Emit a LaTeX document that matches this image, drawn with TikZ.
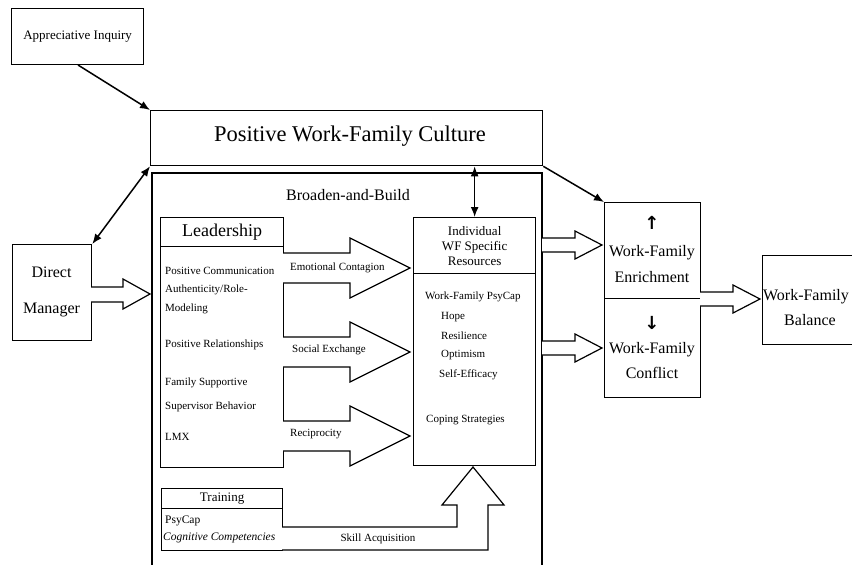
\documentclass[tikz,border=0pt]{standalone}
\usepackage{fontspec}
\setmainfont{Liberation Serif}
\newfontfamily\symfont{DejaVu Sans}
\usetikzlibrary{arrows.meta}
\newcommand\fsz[1]{\fontsize{#1}{#1}\selectfont}
\begin{document}
\begin{tikzpicture}[x=1pt,y=-1pt,
  box/.style={draw, line width=1.3pt, inner sep=0pt, anchor=north west},
  txt/.style={inner sep=0pt, font=\fsz{11}},
  ltxt/.style={txt, anchor=west},
  arr/.style={line width=1.5pt, -{Latex[length=10pt,width=8pt]}},
  darr/.style={line width=1.5pt, {Latex[length=10pt,width=8pt]}-{Latex[length=10pt,width=8pt]}},
  blk/.style={draw, line width=1.2pt, fill=white, line join=miter}
]
\useasboundingbox (0,0) rectangle (852,565);
\fill[white] (0,0) rectangle (852,565);
\begin{scope}
\clip (0,0) rectangle (852,565);

% outer Broaden-and-Build frame (runs off the bottom)
\draw[line width=1.3pt] (152,575) -- (152,173) -- (542,173) -- (542,575);
\node[txt, font=\fsz{16}] (bbt) at (348,195) {Broaden-and-Build};

% boxes
\node[box, minimum width=132pt, minimum height=56pt] (ai) at (11,8) {};
\node[txt, font=\fsz{13}] (ait) at (ai.center) {Appreciative Inquiry};

\node[box, minimum width=392pt, minimum height=55pt] (cult) at (150,110) {};
\node[txt, font=\fsz{22.5}] (cultt) at (350,136) {Positive Work-Family Culture};

\node[box, minimum width=79pt, minimum height=96pt] (dm) at (12,244) {};
\node[txt, font=\fsz{16}] (dm1) at (51.5,272) {Direct};
\node[txt, font=\fsz{16}] (dm2) at (51.5,310) {Manager};

\node[box, minimum width=123pt, minimum height=29pt] (leadh) at (160,217) {};
\node[txt, font=\fsz{18}] (leadt) at (leadh.center) {Leadership};
\node[box, minimum width=123pt, minimum height=221pt] (leadb) at (160,246) {};
\node[ltxt] (l1) at (165,271) {Positive Communication};
\node[ltxt] (l2) at (165,290) {Authenticity/Role-};
\node[ltxt] (l3) at (165,309) {Modeling};
\node[ltxt] (l4) at (165,345) {Positive Relationships};
\node[ltxt] (l5) at (165,383) {Family Supportive};
\node[ltxt] (l6) at (165,407) {Supervisor Behavior};
\node[ltxt] (l7) at (165,437) {LMX};

\node[box, minimum width=122pt, minimum height=56pt] (resh) at (413,217) {};
\node[txt, font=\fontsize{13}{15}\selectfont, align=center] (rest) at (resh.center) {Individual\\WF Specific\\Resources};
\node[box, minimum width=122pt, minimum height=192pt] (resb) at (413,273) {};
\node[ltxt] (r1) at (425,297) {Work-Family PsyCap};
\node[ltxt] (r2) at (441,317) {Hope};
\node[ltxt] (r3) at (441,336) {Resilience};
\node[ltxt] (r4) at (441,355) {Optimism};
\node[ltxt] (r5) at (439,375) {Self-Efficacy};
\node[ltxt] (r6) at (426,420) {Coping Strategies};

\node[box, minimum width=121pt, minimum height=20pt] (trh) at (161,488) {};
\node[txt, font=\fsz{13}] (trt) at (trh.center) {Training};
\node[box, minimum width=121pt, minimum height=42pt] (trb) at (161,508) {};
\node[ltxt, font=\fsz{11.5}] (t1) at (165,521) {PsyCap};
\node[ltxt, font=\fsz{11.5}\itshape] (t2) at (163,538) {Cognitive Competencies};

\node[box, minimum width=96pt, minimum height=96pt] (enr) at (604,202) {};
\node[txt, font=\fsz{18}\symfont\bfseries] (up) at (652,223) {↑};
\node[txt, font=\fsz{16}] (e1) at (652,253) {Work-Family};
\node[txt, font=\fsz{16}] (e2) at (652,277) {Enrichment};
\node[box, minimum width=96pt, minimum height=99pt] (con) at (604,298) {};
\node[txt, font=\fsz{18}\symfont\bfseries] (down) at (652,323) {↓};
\node[txt, font=\fsz{16}] (c1) at (652,350) {Work-Family};
\node[txt, font=\fsz{16}] (c2) at (652,373) {Conflict};

\node[box, minimum width=98pt, minimum height=89pt] (bal) at (762,255) {};
\node[txt, font=\fsz{16}] (b1) at (806,297) {Work-Family};
\node[txt, font=\fsz{16}] (b2) at (810,320) {Balance};

% line arrows
\draw[arr] (78,65) -- (cult.north west);
\draw[darr] (dm.north east) -- (cult.south west);
\draw[arr] (cult.south east) -- (enr.north west);
\draw[darr] (resh.north |- cult.south) -- (resh.north);

% block arrows
\draw[blk] (91,287) -- (123,287) -- (123,279) -- (150,294) -- (123,309) -- (123,302) -- (91,302);

\draw[blk] (283,253) -- (350,253) -- (350,238) -- (410,268) -- (350,298) -- (350,283) -- (283,283);
\node[ltxt] (ec) at (290,268) {Emotional Contagion};
\draw[blk] (283,337) -- (350,337) -- (350,322) -- (410,352) -- (350,382) -- (350,367) -- (283,367);
\node[ltxt] (se) at (292,350) {Social Exchange};
\draw[blk] (283,421) -- (350,421) -- (350,406) -- (410,436) -- (350,466) -- (350,451) -- (283,451);
\node[ltxt] (rc) at (290,434) {Reciprocity};

\draw[blk] (542,238) -- (575,238) -- (575,231) -- (602,245) -- (575,259) -- (575,252) -- (542,252);
\draw[blk] (542,341) -- (575,341) -- (575,334) -- (602,348) -- (575,362) -- (575,355) -- (542,355);

\draw[blk] (700,292) -- (733,292) -- (733,285) -- (760,299) -- (733,313) -- (733,306) -- (700,306);

\draw[blk] (282,527) -- (457,527) -- (457,505) -- (442,505) -- (473,467) -- (504,505) -- (488,505) -- (488,550) -- (282,550);
\node[txt] (sa) at (378,539) {Skill Acquisition};
\end{scope}
\end{tikzpicture}
\end{document}
